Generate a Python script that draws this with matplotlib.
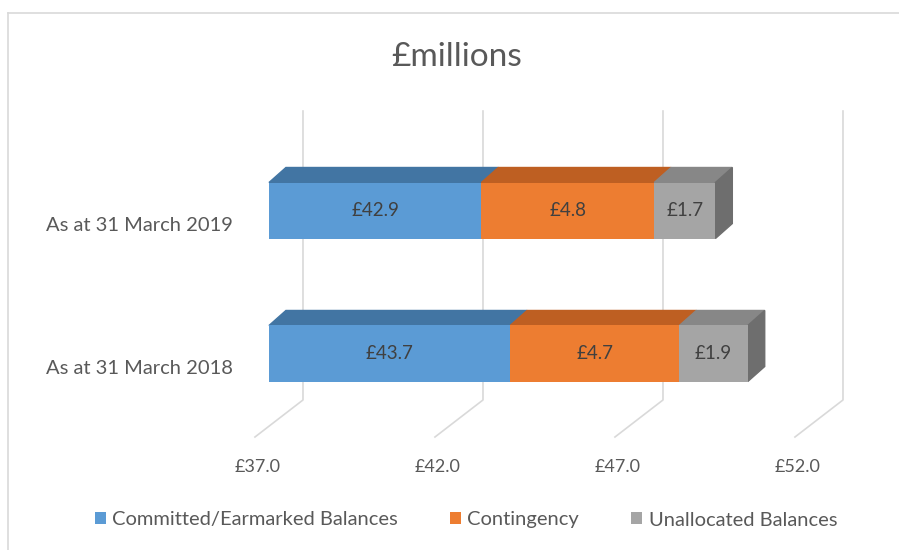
import matplotlib.pyplot as plt
from matplotlib.patches import Polygon
from matplotlib.lines import Line2D
from matplotlib.transforms import ScaledTranslation

plt.rcParams['font.family'] = ['Lato', 'DejaVu Sans']

categories = ['As at 31 March 2018', 'As at 31 March 2019']
series = ['Committed/Earmarked Balances', 'Contingency', 'Unallocated Balances']
committed = [43.7, 42.9]
contingency = [4.7, 4.8]
unallocated = [1.9, 1.7]
ticks = [37.0, 42.0, 47.0, 52.0]
axis_min = 37.0

front_cols = ['#5B9BD5', '#ED7D31', '#A5A5A5']
top_cols = ['#4275A3', '#BE5F22', '#878787']
side_col = '#6E6E6E'
text_col = '#595959'

# fake 3D geometry in data units
DX, DY = 0.47, 0.105          # bar depth
WALL_DX = 0.944               # back wall offset
FLOOR_DX = -0.39              # front floor offset
WALL_BOT, WALL_TOP, FLOOR_Y = -0.325, 1.696, -0.584
H = 0.196

fig = plt.figure(figsize=(8.99, 5.5), dpi=100)
fig.add_artist(Line2D([8 / 899, 1], [1 - 13 / 550] * 2, color='#D9D9D9', lw=1.2))
fig.add_artist(Line2D([8 / 899] * 2, [0, 1 - 13 / 550], color='#D9D9D9', lw=1.2))

ax = fig.add_axes([125 / 899, (550 - 439.3) / 550, 756 / 899, 336 / 550])
ax.set_xlim(33, 54)
ax.set_ylim(-0.6, 1.75)
for s in ax.spines.values():
    s.set_visible(False)

# gridlines: back wall + floor
for v in ticks:
    ax.plot([v + FLOOR_DX, v + WALL_DX, v + WALL_DX],
            [FLOOR_Y, WALL_BOT, WALL_TOP], color='#D9D9D9', lw=1.2, zorder=1)

data = list(zip(committed, contingency, unallocated))
for i, vals in enumerate(data):
    left = axis_min
    for j, v in enumerate(vals):
        w = v - axis_min if j == 0 else v
        ax.barh(i, w, left=left, height=2 * H, color=front_cols[j], zorder=3,
                label=series[j] if i == 0 else None)
        ax.add_patch(Polygon([(left, i + H), (left + w, i + H),
                              (left + w + DX, i + H + DY), (left + DX, i + H + DY)],
                             closed=True, color=top_cols[j], zorder=2))
        ax.text(left + w / 2, i, f'£{v:.1f}', ha='center', va='center',
                fontsize=13.5, color='#404040', zorder=5)
        left += w
    ax.add_patch(Polygon([(left, i - H), (left, i + H),
                          (left + DX, i + H + DY), (left + DX, i - H + DY)],
                         closed=True, color=side_col, zorder=2))

ax.set_yticks(range(len(categories)))
ax.set_yticklabels(categories, fontsize=14.5, color=text_col)
ax.set_xticks([v + FLOOR_DX + 0.08 for v in ticks])
ax.set_xticklabels([f'£{v:.1f}' for v in ticks], fontsize=13, color=text_col)
ax.tick_params(length=0)
ax.tick_params(axis='x', pad=14)
ax.tick_params(axis='y', pad=-78)
for lab in ax.get_yticklabels():
    lab.set_transform(lab.get_transform() + ScaledTranslation(0, -0.13, fig.dpi_scale_trans))

fig.text(457 / 899, 1 - 57 / 550, '£millions', ha='center', va='center',
         fontsize=24, color=text_col)

fig.legend(loc='center', bbox_to_anchor=(466 / 899, 1 - 520 / 550), ncol=3,
           frameon=False, fontsize=14.5, handlelength=0.55, handleheight=0.55,
           handletextpad=0.3, columnspacing=2.6, labelcolor=text_col)

fig.savefig('out.png', dpi=100)
